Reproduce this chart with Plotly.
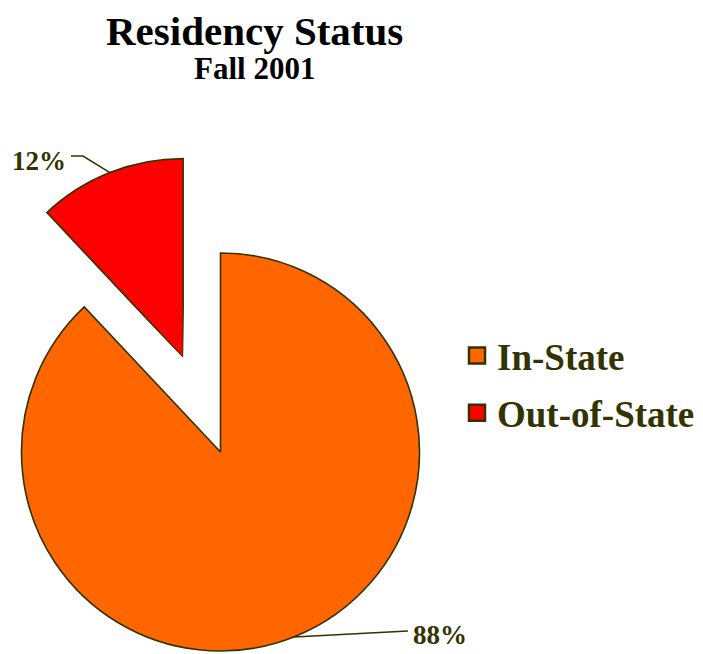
import math
import numpy as np
import plotly.graph_objects as go

# ---------------- data ----------------
categories = ["In-State", "Out-of-State"]
percent = [88, 12]
colors = ["#FF6600", "#FF0000"]
title_text = "Residency Status"
subtitle_text = "Fall 2001"

# ---------------- layout geometry (page pixels) ----------------
PAGE_W, PAGE_H = 703, 654
OFF = 8                      # browser default body margin
W, H = PAGE_W - OFF, PAGE_H - OFF
R_PX = 199.0                 # slice radius
CENTER = (220.5, 452.0)      # pie centre (page px)
PULL_PX = 101.5              # how far the small slice is pulled out
PULLED = [False, True]
PAD = 1.01                   # radial range padding (keeps outline unclipped)
OUTLINE = "#333300"
TEXT_C = "#333300"
FONT = "Liberation Serif"

total = float(sum(percent))
widths = np.array([p / total * 360.0 for p in percent])
starts = np.concatenate([[0.0], np.cumsum(widths)[:-1]])
mids = starts + widths / 2.0


def sector_bbox(s0, s1):
    arc = s1 - s0
    a0 = s0 % 360
    a1 = a0 + arc
    ax0, ay0 = math.cos(math.radians(a0)), math.sin(math.radians(a0))
    ax1, ay1 = math.cos(math.radians(a1)), math.sin(math.radians(a1))
    if (a0 <= 90 and a1 >= 90) or (a0 > 90 and a1 >= 450):
        y1 = 1
    elif ay0 <= 0 and ay1 <= 0:
        y1 = 0
    else:
        y1 = max(ay0, ay1)
    if (a0 <= 180 and a1 >= 180) or (a0 > 180 and a1 >= 540):
        x0 = -1
    elif ax0 >= 0 and ax1 >= 0:
        x0 = 0
    else:
        x0 = min(ax0, ax1)
    if (a0 <= 270 and a1 >= 270) or (a0 > 270 and a1 >= 630):
        y0 = -1
    elif ay0 >= 0 and ay1 >= 0:
        y0 = 0
    else:
        y0 = min(ay0, ay1)
    if a1 >= 360:
        x1 = 1
    elif ax0 <= 0 and ax1 <= 0:
        x1 = 0
    else:
        x1 = max(ax0, ax1)
    return x0, y0, x1, y1


def px2paper(x, y):
    """page pixel -> paper fraction"""
    return (x - OFF) / W, 1 - (y - OFF) / H


def domain_for(cx, cy, rp, sector):
    bx0, by0, bx1, by1 = sector_bbox(*sector)
    xl, _ = px2paper(cx + rp * bx0, 0)
    xr, _ = px2paper(cx + rp * bx1, 0)
    _, yt = px2paper(0, cy - rp * by1)
    _, yb = px2paper(0, cy - rp * by0)
    return dict(x=[max(0, xl), min(1, xr)], y=[max(0, yb), min(1, yt)])


fig = go.Figure()
layout_polars = {}
centers = []
for i, (cat, col) in enumerate(zip(categories, colors)):
    name = "polar" if i == 0 else f"polar{i + 1}"
    m = math.radians(mids[i])
    if PULLED[i]:
        cx = CENTER[0] + PULL_PX * math.sin(m)
        cy = CENTER[1] - PULL_PX * math.cos(m)
        a_start = (90 - (starts[i] + widths[i])) % 360
        sector = [a_start - 1, a_start + widths[i] + 1]
    else:
        cx, cy = CENTER
        sector = [0, 360]
    centers.append((cx, cy))
    # the slice itself
    fig.add_trace(go.Barpolar(
        r=[1], theta=[mids[i]], width=[widths[i]], base=0,
        name=cat, subplot=name, legendgroup=cat, showlegend=False,
        marker=dict(color=col, line=dict(color=OUTLINE, width=1.6)),
        hovertemplate=f"{cat}: {percent[i]}%<extra></extra>",
    ))
    # legend key (larger square swatch than the bar default)
    fig.add_trace(go.Scatterpolar(
        r=[None], theta=[None], mode="markers",
        name=cat, subplot=name, legendgroup=cat, showlegend=True,
        marker=dict(symbol="square", size=16, color=col,
                    line=dict(color=OUTLINE, width=2.5)),
        hoverinfo="skip",
    ))
    layout_polars[name] = dict(
        domain=domain_for(cx, cy, R_PX * PAD, sector),
        sector=sector,
        bgcolor="rgba(0,0,0,0)",
        angularaxis=dict(visible=False, rotation=90, direction="clockwise",
                         showgrid=False, showline=False, showticklabels=False, ticks=""),
        radialaxis=dict(visible=False, range=[0, PAD], showgrid=False,
                        showline=False, showticklabels=False, ticks=""),
    )

# ---------------- percentage labels with leader lines ----------------
label_pos = [(440, 635), (39, 161)]
elbows = [[(408, 631)], [(83, 156), (71, 156)]]
annotations = []
shapes = []
for i in range(len(categories)):
    m = math.radians(mids[i])
    cx, cy = centers[i]
    ex = cx + R_PX * math.sin(m)
    ey = cy - R_PX * math.cos(m)
    pts = [(ex, ey)] + elbows[i]
    path = ""
    for k, (px, py) in enumerate(pts):
        xx, yy = px2paper(px, py)
        path += ("M" if k == 0 else " L") + f"{xx},{yy}"
    shapes.append(dict(type="path", path=path, xref="paper", yref="paper",
                       line=dict(color=OUTLINE, width=1.5)))
    lx, ly = px2paper(*label_pos[i])
    annotations.append(dict(
        text=f"<b>{percent[i]}%</b>", x=lx, y=ly, xref="paper", yref="paper",
        showarrow=False, xanchor="center", yanchor="middle",
        font=dict(family=FONT, size=27, color=TEXT_C),
    ))

# title and subtitle
tx, ty = px2paper(254, 31.5)
annotations.append(dict(
    text=f"<b>{title_text}</b>", x=tx, y=ty, xref="paper", yref="paper",
    showarrow=False, xanchor="center", yanchor="middle",
    font=dict(family=FONT, size=41, color="black"),
))
sx, sy = px2paper(254, 69)
annotations.append(dict(
    text=f"<b>{subtitle_text}</b>", x=sx, y=sy, xref="paper", yref="paper",
    showarrow=False, xanchor="center", yanchor="middle",
    font=dict(family=FONT, size=31, color="black"),
))

lgx, lgy = px2paper(457, 384.5)
fig.update_layout(
    width=W, height=H,
    margin=dict(l=0, r=0, t=0, b=0),
    paper_bgcolor="white",
    plot_bgcolor="white",
    legend=dict(
        x=lgx, y=lgy, xanchor="left", yanchor="middle",
        font=dict(family=FONT, size=37, color=TEXT_C, weight=700),
        bgcolor="rgba(0,0,0,0)",
        tracegroupgap=6,
    ),
    showlegend=True,
    annotations=annotations,
    shapes=shapes,
    **layout_polars,
)

fig.write_html("out.html")
